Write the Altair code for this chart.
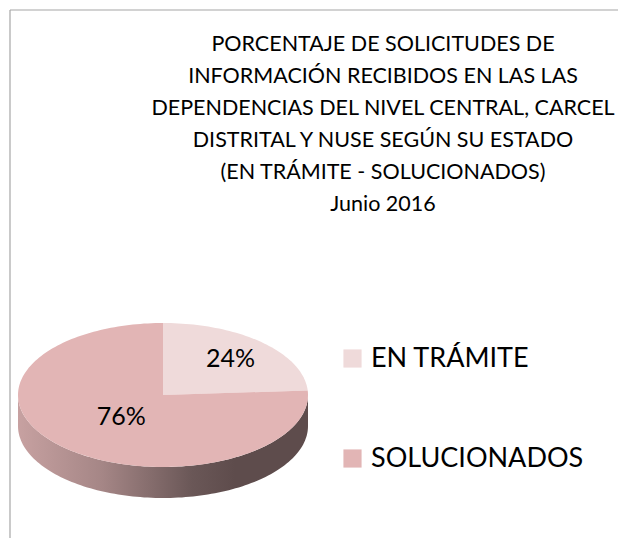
import math
import altair as alt

# ---- data ----
CATEGORIES = ["EN TRÁMITE", "SOLUCIONADOS"]
PERCENTS = [24, 76]
COLORS = ["#EFDADA", "#E2B5B5"]
TITLE_LINES = [
    "PORCENTAJE DE SOLICITUDES DE",
    "INFORMACIÓN RECIBIDOS EN  LAS LAS",
    "DEPENDENCIAS DEL NIVEL CENTRAL, CARCEL",
    "DISTRITAL Y NUSE  SEGÚN SU ESTADO",
    "(EN TRÁMITE - SOLUCIONADOS)",
    "Junio  2016",
]

# ---- layout / style ----
FONT = "Lato, Open Sans, sans-serif"
W, H = 610, 530
CX, CY, RX, RY, DEPTH = 155, 387, 145, 72, 31
LABEL_RADIUS = [0.68, 0.42]
N_SEG = 240
PROJ = dict(type="identity", scale=1, translate=[0, 0])


def pt(theta_deg, dy=0.0):
    t = math.radians(theta_deg)
    return [CX + RX * math.sin(t), CY - RY * math.cos(t) + dy]


def arc(a, b, dy=0.0):
    n = max(2, int(abs(b - a) / 360 * N_SEG) + 1)
    return [pt(a + (b - a) * i / (n - 1), dy) for i in range(n)]


total = float(sum(PERCENTS))
top_feats, side_feats, labels = [], [], []
start = 0.0
for cat, val, lr in zip(CATEGORIES, PERCENTS, LABEL_RADIUS):
    end = start + 360.0 * val / total
    ring = [[CX, CY]] + arc(start, end) + [[CX, CY]]
    top_feats.append({"type": "Feature", "properties": {"cat": cat},
                      "geometry": {"type": "Polygon", "coordinates": [ring]}})
    a, b = max(start, 90.0), min(end, 270.0)
    if b - a > 0.5:
        sring = arc(a, b) + arc(b, a, DEPTH)
        sring.append(sring[0])
        side_feats.append({"type": "Feature", "properties": {"cat": cat},
                           "geometry": {"type": "Polygon", "coordinates": [sring]}})
    mid = math.radians((start + end) / 2)
    labels.append({"cat": cat, "txt": f"{val}%",
                   "lx": CX + lr * RX * math.sin(mid),
                   "ly": CY - lr * RY * math.cos(mid)})
    start = end

side = alt.Chart(alt.Data(values=side_feats)).mark_geoshape(
    strokeWidth=0,
    fill=alt.Gradient(
        gradient="linear", x1=0, x2=1, y1=0, y2=0,
        stops=[
            alt.GradientStop(offset=0, color="#C7A1A1"),
            alt.GradientStop(offset=0.29, color="#A58686"),
            alt.GradientStop(offset=0.6, color="#6A5757"),
            alt.GradientStop(offset=0.75, color="#5E4C4C"),
            alt.GradientStop(offset=1, color="#5E4C4C"),
        ],
    ),
).project(**PROJ)

top = alt.Chart(alt.Data(values=top_feats)).mark_geoshape(strokeWidth=0).encode(
    color=alt.Color(
        "properties.cat:N",
        scale=alt.Scale(domain=CATEGORIES, range=COLORS),
        legend=alt.Legend(
            orient="none", legendX=331, legendY=337, title=None,
            symbolType="square", symbolSize=330, symbolStrokeWidth=0,
            symbolOpacity=1,
            labelFontSize=27, labelFont=FONT, labelColor="black",
            labelOffset=5, rowPadding=72, labelLimit=400,
        ),
    )
).project(**PROJ)

lab = alt.Chart(alt.Data(values=labels)).mark_text(
    font=FONT, fontSize=25, color="black", baseline="middle", align="center"
).encode(
    longitude="lx:Q", latitude="ly:Q", text="txt:N"
).project(**PROJ)

title = alt.Chart(alt.Data(values=[{}])).mark_text(
    text=TITLE_LINES, font=FONT, fontSize=21.5, lineHeight=32,
    align="center", baseline="alphabetic", color="black",
).encode(x=alt.value(375), y=alt.value(43))

border_top = alt.Chart(alt.Data(values=[{}])).mark_rule(
    color="#A6A6A6", strokeWidth=1.2
).encode(x=alt.value(2), x2=alt.value(W), y=alt.value(2))
border_left = alt.Chart(alt.Data(values=[{}])).mark_rule(
    color="#A6A6A6", strokeWidth=1.2
).encode(x=alt.value(2), y=alt.value(2), y2=alt.value(H))

chart = alt.layer(border_top, border_left, title, side, top, lab).properties(
    width=W, height=H, autosize=alt.AutoSizeParams(type="none"), padding=0,
    background="white",
).configure_view(strokeWidth=0)

chart.save("out.html", embed_options={"renderer": "svg", "actions": False})
